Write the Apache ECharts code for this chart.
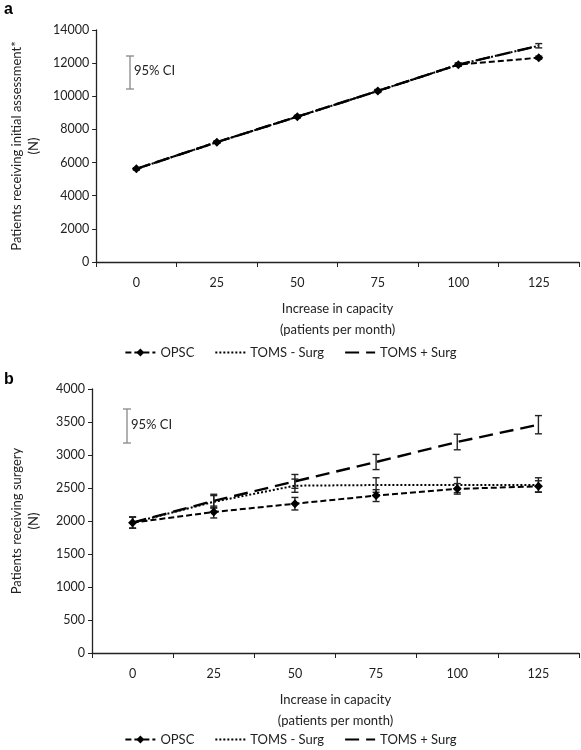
<!DOCTYPE html>
<html><head><meta charset="utf-8">
<script src="https://cdn.jsdelivr.net/npm/echarts@6/dist/echarts.min.js"></script>
<style>html,body{margin:0;padding:0;background:#fff}#c{width:581px;height:750px}</style>
</head><body><div id="c"></div>
<script>
const categories = ['0','25','50','75','100','125'];
const seriesNames = ['OPSC','TOMS - Surg','TOMS + Surg'];
// Panel a: patients receiving initial assessment
const aOPSC = [5620, 7230, 8770, 10320, 11910, 12330];
const aTomsMinus = [5620, 7230, 8770, 10320, 11910, 13050];
const aTomsPlus = [5620, 7230, 8770, 10320, 11910, 13050];
const aErrOPSC = [60, 60, 70, 70, 80, 90];
const aErrTomsPlus = [60, 60, 70, 90, 100, 130];
// Panel b: patients receiving surgery
const bOPSC = [1975, 2136, 2262, 2385, 2487, 2525];
const bTomsMinus = [1975, 2290, 2535, 2545, 2545, 2545];
const bTomsPlus = [1975, 2305, 2600, 2894, 3197, 3459];
const bErrOPSC = [85, 90, 95, 90, 80, 85];
const bErrTomsMinus = [85, 95, 100, 110, 115, 110];
const bErrTomsPlus = [85, 100, 105, 115, 118, 138];
const yTicksA = {min: 0, max: 14000, interval: 2000};
const yTicksB = {min: 0, max: 4000, interval: 500};

const FONT = 'Lato';
const TXT = '#222';

function errData(vals, errs){ return vals.map((v,i)=>[i, v-errs[i], v+errs[i]]); }
function errRender(params, api){
  const x = api.value(0), lo = api.value(1), hi = api.value(2);
  const p1 = api.coord([x, lo]), p2 = api.coord([x, hi]);
  const w = 3.5;
  const st = {stroke:'#222', lineWidth:1.4};
  return {type:'group', children:[
    {type:'line', shape:{x1:p1[0],y1:p1[1],x2:p2[0],y2:p2[1]}, style:st},
    {type:'line', shape:{x1:p1[0]-w,y1:p1[1],x2:p1[0]+w,y2:p1[1]}, style:st},
    {type:'line', shape:{x1:p2[0]-w,y1:p2[1],x2:p2[0]+w,y2:p2[1]}, style:st}
  ]};
}
function errSeries(idx, vals, errs){
  return {type:'custom', xAxisIndex:idx, yAxisIndex:idx, renderItem:errRender,
    data: errData(vals, errs), encode:{x:0, y:[1,2]}, z:5, silent:true};
}
const styles = {
  'OPSC': {lineStyle:{color:'#000', width:2, type:[6,3]}, symbol:'diamond', symbolSize:9, itemStyle:{color:'#000'}},
  'TOMS - Surg': {lineStyle:{color:'#000', width:2, type:[2,2]}, symbol:'none', itemStyle:{color:'#000'}},
  'TOMS + Surg': {lineStyle:{color:'#000', width:2.4, type:[14,7]}, symbol:'none', itemStyle:{color:'#000'}}
};
function lineSeries(idx, name, vals, z){
  return Object.assign({type:'line', name, xAxisIndex:idx, yAxisIndex:idx, data:vals, z, animation:false}, styles[name]);
}
function xAxis(idx){
  return {type:'category', gridIndex:idx, data:categories,
    axisLine:{lineStyle:{color:'#222', width:1.3}},
    axisTick:{show:true, length:5, lineStyle:{color:'#222'}},
    axisLabel:{color:TXT, fontFamily:FONT, fontSize:12.5, margin:14},
    name:'Increase in capacity\n(patients per month)', nameLocation:'middle', nameGap:36,
    nameTextStyle:{color:TXT, fontFamily:FONT, fontSize:13, lineHeight:21}};
}
function yAxis(idx, t, name){
  return {type:'value', gridIndex:idx, min:t.min, max:t.max, interval:t.interval,
    splitLine:{show:false},
    axisLine:{show:true, lineStyle:{color:'#222', width:1.3}},
    axisTick:{show:true, length:4, lineStyle:{color:'#222'}},
    axisLabel:{color:TXT, fontFamily:FONT, fontSize:12.5, margin:7, formatter:(v)=>String(v)},
    name, nameLocation:'middle', nameRotate:90, nameGap:50,
    nameTextStyle:{color:TXT, fontFamily:FONT, fontSize:13, lineHeight:17}};
}
function ciKey(x, yTop, yBot){
  const st = {stroke:'#888', lineWidth:1.3};
  return [
    {type:'line', shape:{x1:x,y1:yTop,x2:x,y2:yBot}, style:st},
    {type:'line', shape:{x1:x-4,y1:yTop,x2:x+4,y2:yTop}, style:st},
    {type:'line', shape:{x1:x-4,y1:yBot,x2:x+4,y2:yBot}, style:st},
    {type:'text', left:x+4, top:(yTop+yBot)/2-8, style:{text:'95% CI', fill:TXT, font:'13px '+FONT}}
  ];
}
const hidden = {color:'rgba(0,0,0,0)', borderWidth:0};
const legendData = [
  {name:'OPSC'},
  {name:'TOMS - Surg', itemStyle:hidden},
  {name:'TOMS + Surg', itemStyle:hidden}
];
const chart = echarts.init(document.getElementById('c'), null, {renderer:'canvas'});
chart.setOption({
  animation:false,
  backgroundColor:'#fff',
  grid:[
    {left:82, right:2, top:30, height:232, containLabel:false},
    {left:77, right:2, top:389, height:264, containLabel:false}
  ],
  xAxis:[xAxis(0), xAxis(1)],
  yAxis:[yAxis(0, yTicksA, 'Patients receiving initial assessment*\n(N)'), yAxis(1, yTicksB, 'Patients receiving surgery\n(N)')],
  legend:[
    {data:legendData, top:341, left:'center', itemWidth:30, itemHeight:10, itemGap:20,
     textStyle:{color:TXT, fontFamily:FONT, fontSize:13}},
    {data:legendData, top:728, left:'center', itemWidth:30, itemHeight:10, itemGap:20,
     textStyle:{color:TXT, fontFamily:FONT, fontSize:13}}
  ],
  series:[
    errSeries(0, aOPSC, aErrOPSC),
    errSeries(0, aTomsPlus, aErrTomsPlus),
    lineSeries(0, 'TOMS + Surg', aTomsPlus, 3),
    lineSeries(0, 'TOMS - Surg', aTomsMinus, 4),
    lineSeries(0, 'OPSC', aOPSC, 6),
    errSeries(1, bOPSC, bErrOPSC),
    errSeries(1, bTomsMinus, bErrTomsMinus),
    errSeries(1, bTomsPlus, bErrTomsPlus),
    lineSeries(1, 'TOMS + Surg', bTomsPlus, 3),
    lineSeries(1, 'TOMS - Surg', bTomsMinus, 4),
    lineSeries(1, 'OPSC', bOPSC, 6)
  ],
  graphic:[
    {type:'text', left:4, top:2, style:{text:'a', fill:'#000', font:'bold 16px "Liberation Sans"'}},
    {type:'text', left:4, top:372, style:{text:'b', fill:'#000', font:'bold 16px "Liberation Sans"'}},
    ...ciKey(130, 56, 89),
    ...ciKey(127, 409, 443)
  ]
});
</script></body></html>
